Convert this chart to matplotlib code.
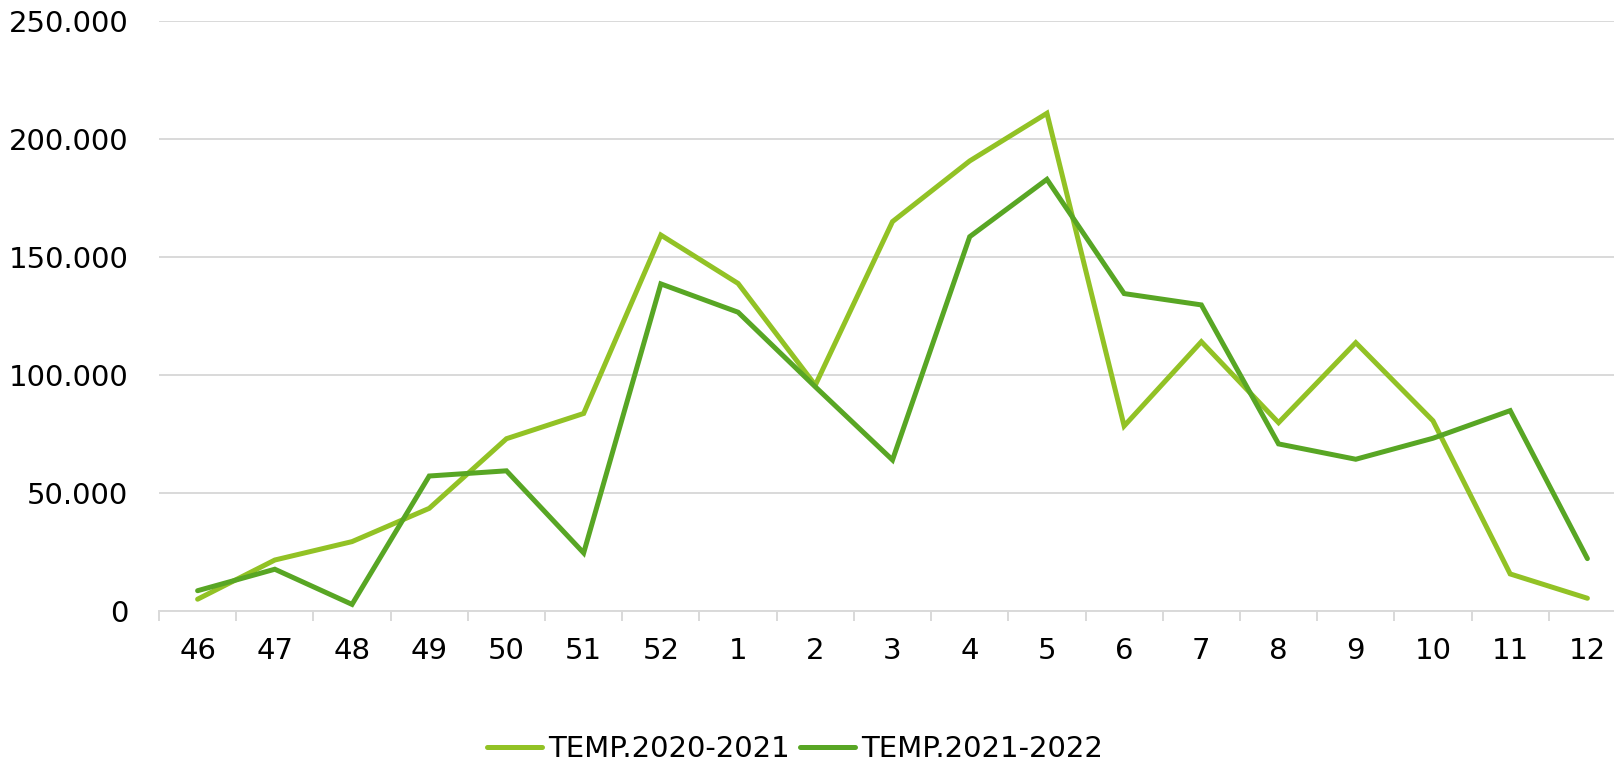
import matplotlib.pyplot as plt
from matplotlib.ticker import FuncFormatter
import numpy as np

# week numbers and weekly values per season
weeks = ['46', '47', '48', '49', '50', '51', '52', '1', '2', '3',
         '4', '5', '6', '7', '8', '9', '10', '11', '12']
temp_2020_2021 = [5000, 21600, 29400, 43500, 73000, 83700, 159300, 138800, 95700, 165000,
                  190700, 210900, 78400, 114100, 79800, 113700, 80600, 15700, 5400]
temp_2021_2022 = [8600, 17700, 2800, 57200, 59400, 24600, 138600, 126600, 95000, 64000,
                  158600, 182900, 134500, 129700, 70800, 64300, 73200, 84900, 22200]

light_green = '#92C225'
dark_green = '#58A624'
grid_gray = '#D9D9D9'

plt.rcParams['font.family'] = ['DejaVu Sans']

fig = plt.figure(figsize=(16.15, 7.68), dpi=100)
# axes runs slightly past the right edge, like the cropped original
ax = fig.add_axes([159 / 1615, 1 - 611 / 768, 1467 / 1615, 590 / 768])

x = np.arange(len(weeks))
ax.plot(x, temp_2020_2021, color=light_green, lw=3.6, label='TEMP.2020-2021',
        solid_capstyle='round', solid_joinstyle='miter')
ax.plot(x, temp_2021_2022, color=dark_green, lw=3.6, label='TEMP.2021-2022',
        solid_capstyle='round', solid_joinstyle='miter')

ax.set_xlim(-0.5, len(weeks) - 0.5)
ax.set_ylim(0, 250000)
ax.set_yticks(np.arange(0, 250001, 50000))
ax.yaxis.set_major_formatter(FuncFormatter(lambda v, p: f'{int(v):,}'.replace(',', '.')))
ax.grid(axis='y', color=grid_gray, lw=1.4)
ax.set_axisbelow(True)

# category labels centred, tick marks on the boundaries
ax.set_xticks(x)
ax.set_xticklabels(weeks)
ax.set_xticks(np.arange(-0.5, len(weeks), 1), minor=True)
ax.tick_params(axis='x', which='major', length=0, pad=19, labelsize=21)
ax.tick_params(axis='x', which='minor', length=7, width=1.4, color=grid_gray)
ax.tick_params(axis='y', length=0, pad=22, labelsize=21)

for side in ['top', 'right', 'left']:
    ax.spines[side].set_visible(False)
ax.spines['bottom'].set_color(grid_gray)
ax.spines['bottom'].set_linewidth(1.4)

fig.legend(loc='center', bbox_to_anchor=(795 / 1615, 1 - 749 / 768), ncol=2,
           frameon=False, fontsize=21, handlelength=1.9, handletextpad=0.2,
           columnspacing=0.35)

fig.savefig('out.png', dpi=100)
